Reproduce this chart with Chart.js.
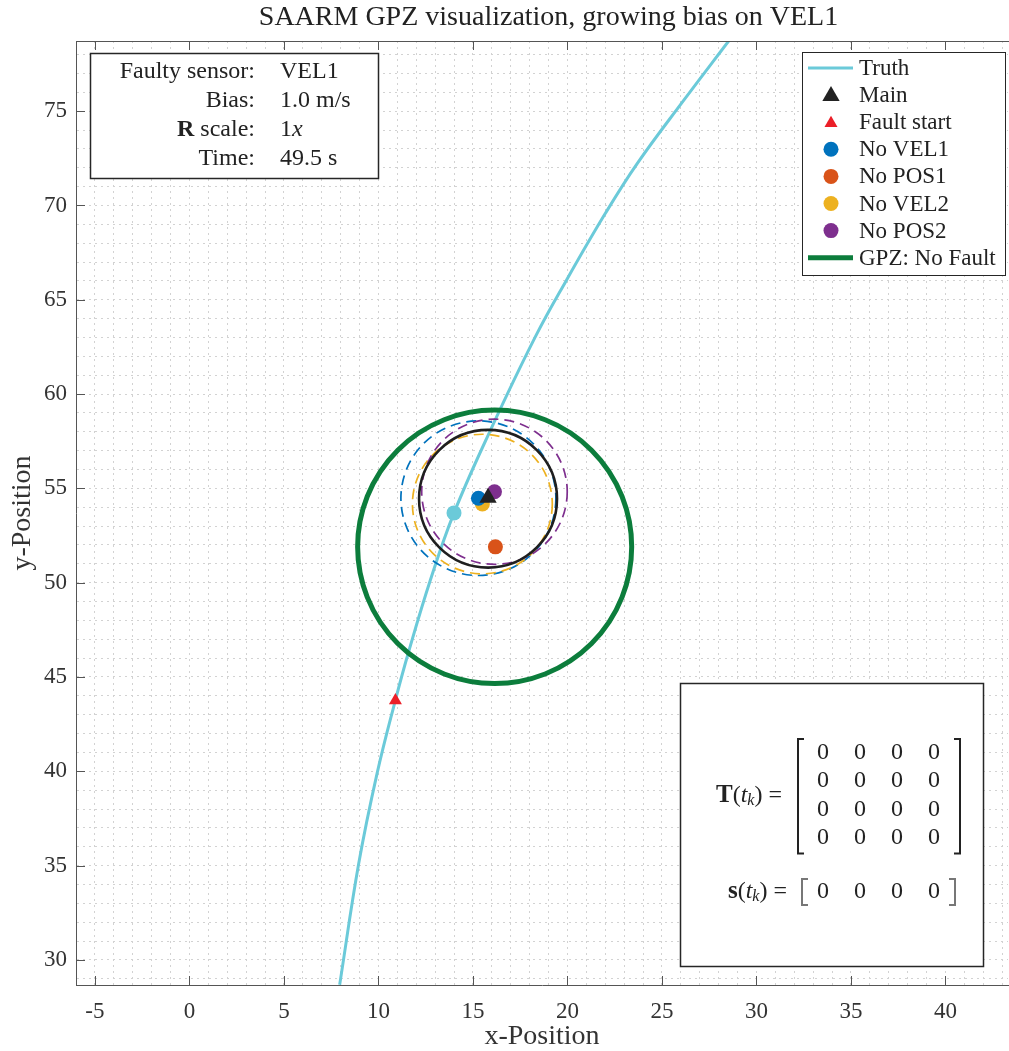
<!DOCTYPE html>
<html>
<head>
<meta charset="utf-8">
<script src="https://cdn.jsdelivr.net/npm/chart.js@4.4.1/dist/chart.umd.min.js"></script>
<style>
  html, body { margin: 0; padding: 0; background: #fff; overflow: hidden; }
  canvas { display: block; }
</style>
</head>
<body>
<canvas id="gpzChart" width="1009" height="1051"></canvas>
<script>
const SERIF = "'Liberation Serif', 'Times New Roman', serif";
const INK = "#333333";

// axes: the original 50 x 50 box is cut by the right edge of the picture at x = 43.3
const xLimits = [-6, 43.31];
const xAxesCenter = 19;
const yLimits = [28.67, 78.72];
const xTickLabels = [-5, 0, 5, 10, 15, 20, 25, 30, 35, 40];
const yTickLabels = [30, 35, 40, 45, 50, 55, 60, 65, 70, 75];

// true trajectory
const truthX = [7.95, 8.96, 9.93, 10.9, 11.6, 12.75, 14.0, 15.93, 18.3, 19.95, 22.0, 23.69, 26.15, 28.53];
const truthY = [28.68, 35.12, 39.89, 43.78, 46.34, 50.14, 53.7, 58.09, 63.03, 66.04, 69.57, 72.22, 75.57, 78.72];

// markers
const mainPos = [15.8, 54.5];
const faultStartPos = [10.9, 43.75];
const truthNowPos = [14.0, 53.7];
const subNames = ["No VEL1", "No POS1", "No VEL2", "No POS2"];
const subX = [15.29, 16.19, 15.5, 16.14];
const subY = [54.48, 51.9, 54.17, 54.82];
const subColors = ["#0072bd", "#d95319", "#edb120", "#7e2f8e"];

// protection level circles
const circleX = [16.15, 15.29, 15.5, 16.14, 15.8];
const circleY = [51.9, 54.48, 54.17, 54.82, 54.45];
const circleR = [7.25, 4.1, 3.7, 3.85, 3.65];
const circleColors = ["#0c7d3c", "#0072bd", "#edb120", "#7e2f8e", "#1f1f1f"];
const circleWidths = [5, 1.7, 1.7, 1.7, 2.6];
const circleDashed = [false, true, true, true, false];

// annotation texts
const infoLabels = ["Faulty sensor:", "Bias:", "R scale:", "Time:"];
const infoValues = ["VEL1", "1.0 m/s", "1x", "49.5 s"];
const Tmatrix = [[0, 0, 0, 0], [0, 0, 0, 0], [0, 0, 0, 0], [0, 0, 0, 0]];
const sVector = [0, 0, 0, 0];

const CYAN = "#6bcad9";
const RED = "#eb1f28";
const DARK = "#222222";

const font = (size, style) => (style || "") + " " + size + "px " + SERIF;

function drawRuns(ctx, runs, x, y, align) {
  let total = 0;
  runs.forEach(r => { ctx.font = r.f; total += ctx.measureText(r.t).width; });
  let cx = align === "right" ? x - total : x;
  ctx.textAlign = "left";
  runs.forEach(r => {
    ctx.font = r.f;
    ctx.fillText(r.t, cx, y + (r.dy || 0));
    cx += ctx.measureText(r.t).width;
  });
}

function triangle(ctx, x, y, r, color) {
  ctx.beginPath();
  ctx.moveTo(x, y - r);
  ctx.lineTo(x + r * 0.866, y + r * 0.5);
  ctx.lineTo(x - r * 0.866, y + r * 0.5);
  ctx.closePath();
  ctx.fillStyle = color;
  ctx.fill();
}

function dot(ctx, x, y, r, color) {
  ctx.beginPath();
  ctx.arc(x, y, r, 0, Math.PI * 2);
  ctx.fillStyle = color;
  ctx.fill();
}

function bracket(ctx, x, top, bottom, dir, color) {
  ctx.beginPath();
  ctx.moveTo(x + dir * 6, top);
  ctx.lineTo(x, top);
  ctx.lineTo(x, bottom);
  ctx.lineTo(x + dir * 6, bottom);
  ctx.strokeStyle = color;
  ctx.lineWidth = 2;
  ctx.stroke();
}

const circlePlugin = {
  id: "circles",
  afterDatasetDraw(chart, args) {
    if (args.index !== 0) return;
    const { ctx, chartArea: a, scales: { x, y } } = chart;
    ctx.save();
    ctx.beginPath();
    ctx.rect(a.left, a.top, a.right - a.left, a.bottom - a.top);
    ctx.clip();
    circleX.forEach((cx, i) => {
      const px = x.getPixelForValue(cx), py = y.getPixelForValue(circleY[i]);
      const rx = Math.abs(x.getPixelForValue(cx + circleR[i]) - px);
      const ry = Math.abs(y.getPixelForValue(circleY[i] + circleR[i]) - py);
      ctx.beginPath();
      ctx.ellipse(px, py, rx, ry, 0, 0, Math.PI * 2);
      ctx.setLineDash(circleDashed[i] ? [10, 6] : []);
      ctx.lineWidth = circleWidths[i];
      ctx.strokeStyle = circleColors[i];
      ctx.stroke();
    });
    ctx.restore();
  }
};

const framePlugin = {
  id: "frame",
  afterDraw(chart) {
    const { ctx, chartArea: a, scales: { x, y } } = chart;
    ctx.save();

    // top border and inward ticks
    ctx.strokeStyle = "#555";
    ctx.lineWidth = 1;
    ctx.beginPath();
    ctx.moveTo(a.left, a.top + 0.5); ctx.lineTo(a.right + 2, a.top + 0.5);
    xTickLabels.forEach(v => {
      const px = Math.round(x.getPixelForValue(v)) + 0.5;
      ctx.moveTo(px, a.bottom); ctx.lineTo(px, a.bottom - 9);
      ctx.moveTo(px, a.top); ctx.lineTo(px, a.top + 9);
    });
    yTickLabels.forEach(v => {
      const py = Math.round(y.getPixelForValue(v)) + 0.5;
      ctx.moveTo(a.left, py); ctx.lineTo(a.left + 9, py);
    });
    ctx.stroke();

    // title, centred on the full axes box
    ctx.fillStyle = "#222";
    ctx.font = font(28);
    ctx.textAlign = "center";
    ctx.textBaseline = "alphabetic";
    ctx.fillText("SAARM GPZ visualization, growing bias on VEL1", x.getPixelForValue(xAxesCenter), 25);

    // info box
    const bx = a.left + 14, by = a.top + 12, bw = 288, bh = 125;
    ctx.fillStyle = "#fff";
    ctx.fillRect(bx, by, bw, bh);
    ctx.strokeStyle = "#262626";
    ctx.lineWidth = 1.5;
    ctx.strokeRect(bx + 0.5, by + 0.5, bw, bh);
    ctx.fillStyle = "#222";
    infoLabels.forEach((lab, i) => {
      const base = by + 25 + i * 29;
      let runs = [{ t: lab, f: font(24) }];
      if (lab.startsWith("R ")) runs = [{ t: "R", f: font(24, "bold") }, { t: lab.slice(1), f: font(24) }];
      drawRuns(ctx, runs, bx + 165, base, "right");
      const val = infoValues[i];
      let vr = [{ t: val, f: font(24) }];
      if (val === "1x") vr = [{ t: "1", f: font(24) }, { t: "x", f: font(24, "italic") }];
      drawRuns(ctx, vr, bx + 190, base, "left");
    });

    // legend
    const lx = a.right - 206, ly = a.top + 11, lw = 203, lh = 223;
    ctx.fillStyle = "#fff";
    ctx.fillRect(lx, ly, lw, lh);
    ctx.strokeStyle = "#262626";
    ctx.lineWidth = 1;
    ctx.strokeRect(lx + 0.5, ly + 0.5, lw, lh);
    const legendItems = [
      { label: "Truth", kind: "line", color: CYAN, w: 3 },
      { label: "Main", kind: "tri", color: DARK, r: 10 },
      { label: "Fault start", kind: "tri", color: RED, r: 7.5 }
    ];
    subNames.forEach((n, i) => legendItems.push({ label: n, kind: "dot", color: subColors[i], r: 7.5 }));
    legendItems.push({ label: "GPZ: No Fault", kind: "line", color: circleColors[0], w: 5 });
    legendItems.forEach((it, i) => {
      const cy = ly + 16 + i * 27.1;
      if (it.kind === "line") {
        ctx.beginPath();
        ctx.moveTo(lx + 6, cy); ctx.lineTo(lx + 51, cy);
        ctx.strokeStyle = it.color; ctx.lineWidth = it.w; ctx.stroke();
      } else if (it.kind === "tri") {
        triangle(ctx, lx + 29, cy + 1, it.r, it.color);
      } else {
        dot(ctx, lx + 29, cy, it.r, it.color);
      }
      ctx.fillStyle = "#222";
      ctx.font = font(23);
      ctx.textAlign = "left";
      ctx.textBaseline = "middle";
      ctx.fillText(it.label, lx + 57, cy + 1);
    });

    // matrix box
    const mx = a.right - 328, mbot = a.bottom - 19, mw = 303, mh = 283, my = mbot - mh;
    ctx.fillStyle = "#fff";
    ctx.fillRect(mx, my, mw, mh);
    ctx.strokeStyle = "#262626";
    ctx.lineWidth = 1.5;
    ctx.strokeRect(mx + 0.5, my + 0.5, mw, mh);
    ctx.textBaseline = "middle";
    ctx.fillStyle = "#222";
    const colX = [143, 180, 217, 254].map(d => mx + d);
    const rowY0 = my + 70, rowStep = 28.2;
    Tmatrix.forEach((row, r) => row.forEach((v, c) => {
      ctx.font = font(24);
      ctx.textAlign = "center";
      ctx.fillText(String(v), colX[c], rowY0 + r * rowStep);
    }));
    const tMid = rowY0 + 1.5 * rowStep;
    drawRuns(ctx, [
      { t: "T", f: font(25, "bold") }, { t: "(", f: font(24) }, { t: "t", f: font(24, "italic") },
      { t: "k", f: font(16, "italic"), dy: 5 }, { t: ")", f: font(24) }, { t: " =", f: font(24) }
    ], mx + 102, tMid, "right");
    bracket(ctx, mx + 118, rowY0 - 14, rowY0 + 3 * rowStep + 16, 1, "#222");
    bracket(ctx, mx + 280, rowY0 - 14, rowY0 + 3 * rowStep + 16, -1, "#222");

    const sY = my + 209;
    sVector.forEach((v, c) => {
      ctx.font = font(24);
      ctx.textAlign = "center";
      ctx.fillText(String(v), colX[c], sY);
    });
    drawRuns(ctx, [
      { t: "s", f: font(25, "bold") }, { t: "(", f: font(24) }, { t: "t", f: font(24, "italic") },
      { t: "k", f: font(16, "italic"), dy: 5 }, { t: ")", f: font(24) }, { t: " =", f: font(24) }
    ], mx + 107, sY, "right");
    bracket(ctx, mx + 122, sY - 13, sY + 13, 1, "#777");
    bracket(ctx, mx + 275, sY - 13, sY + 13, -1, "#777");

    ctx.restore();
  }
};

const ctx = document.getElementById("gpzChart").getContext("2d");

const datasets = [
  {
    label: "Truth",
    data: truthX.map((v, i) => ({ x: v, y: truthY[i] })),
    showLine: true,
    borderColor: CYAN,
    borderWidth: 3,
    pointRadius: 0,
    tension: 0.4,
    order: 20
  },
  {
    label: "Fault start",
    data: [{ x: faultStartPos[0], y: faultStartPos[1] }],
    pointStyle: "triangle",
    pointRadius: 7.5,
    backgroundColor: RED,
    borderColor: RED,
    borderWidth: 0,
    order: 6
  }
];
// draw order: POS1, VEL2 under VEL1, POS2
const subOrder = [3, 5, 4, 2];
subNames.forEach((n, i) => datasets.push({
  label: n,
  data: [{ x: subX[i], y: subY[i] }],
  pointRadius: 7.5,
  backgroundColor: subColors[i],
  borderColor: subColors[i],
  borderWidth: 0,
  order: subOrder[i]
}));
datasets.push({
  label: "Truth now",
  data: [{ x: truthNowPos[0], y: truthNowPos[1] }],
  pointRadius: 7.5,
  backgroundColor: CYAN,
  borderColor: CYAN,
  borderWidth: 0,
  order: 1
});
datasets.push({
  label: "Main",
  data: [{ x: mainPos[0], y: mainPos[1] }],
  pointStyle: "triangle",
  pointRadius: 10,
  backgroundColor: DARK,
  borderColor: DARK,
  borderWidth: 0,
  order: 0
});

const tickFont = { family: SERIF, size: 23 };

new Chart(ctx, {
  type: "scatter",
  data: { datasets },
  options: {
    responsive: false,
    animation: false,
    events: [],
    // no automatic room for point radii: the axes run right to the picture edge
    layout: { autoPadding: false, padding: { top: 41, right: 1, bottom: 0, left: 0 } },
    plugins: { legend: { display: false }, tooltip: { enabled: false } },
    scales: {
      x: {
        type: "linear",
        min: xLimits[0],
        max: xLimits[1],
        // invisible tick marks push the labels down without adding side padding
        grid: { color: "#d2d2d2", lineWidth: 1, drawTicks: true, tickLength: 13, tickColor: "rgba(0,0,0,0)" },
        border: { display: true, color: "#555", width: 1, dash: [2, 4] },
        ticks: {
          stepSize: 1,
          autoSkip: false,
          includeBounds: false,
          maxRotation: 0,
          minRotation: 0,
          padding: 0,
          color: INK,
          font: tickFont,
          callback: v => xTickLabels.includes(v) ? String(v) : ""
        },
        title: { display: true, text: "x-Position", color: INK, font: { family: SERIF, size: 28, lineHeight: 1 }, padding: { top: 0, bottom: 0 } },
        afterFit: s => { s.height = 66; }
      },
      y: {
        type: "linear",
        min: yLimits[0],
        max: yLimits[1],
        grid: { color: "#d2d2d2", lineWidth: 1, drawTicks: false },
        border: { display: true, color: "#555", width: 1, dash: [2, 4] },
        ticks: {
          stepSize: 1,
          autoSkip: false,
          includeBounds: false,
          padding: 9,
          color: INK,
          font: tickFont,
          callback: v => yTickLabels.includes(v) ? String(v) : ""
        },
        title: { display: true, text: "y-Position", color: INK, font: { family: SERIF, size: 28, lineHeight: 1 }, padding: { top: 9, bottom: 0 } },
        afterFit: s => { s.width = 76; }
      }
    }
  },
  plugins: [circlePlugin, framePlugin]
});
</script>
</body>
</html>
